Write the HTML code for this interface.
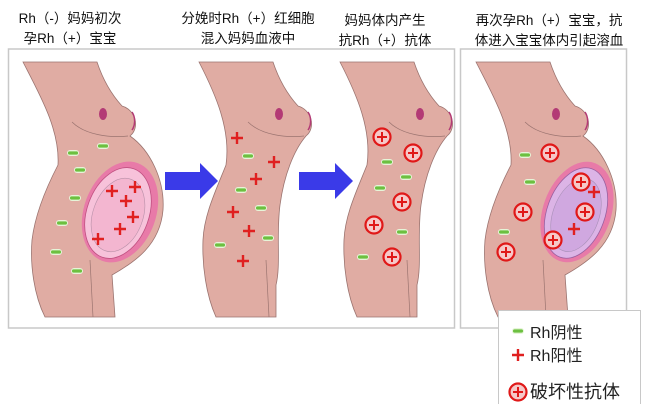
<!DOCTYPE html>
<html><head><meta charset="utf-8"><style>
html,body{margin:0;padding:0;background:#fff;}
svg{display:block;font-family:"Liberation Sans","Noto Sans CJK SC",sans-serif;}
</style></head><body>
<svg width="671" height="404" viewBox="0 0 671 404" xmlns="http://www.w3.org/2000/svg">
<defs>
<g id="minus"><rect x="-6" y="-3" width="12" height="6" rx="3" fill="#e6f5d8"/><rect x="-5" y="-1.6" width="10" height="3.2" rx="1.5" fill="#6cc040"/></g>
<g id="plus"><path d="M-6,0H6M0,-6V6" stroke="#e02020" stroke-width="2.4"/></g>
<g id="circ"><circle r="8.5" fill="#f6c8c8" stroke="#e01818" stroke-width="2.2"/><path d="M-5,0H5M0,-5V5" stroke="#e01818" stroke-width="2"/></g>
<path id="preg" d="M23,62 L97,62 C103,80 112,95 122,106 C136,110 140,128 130,136 C150,150 165,180 163,210 C160,245 135,262 112,275 L115,317 L45,317 C34,295 30,265 32,240 C35,215 45,190 58,165 C60,130 40,95 23,62 Z" fill="#e0aca3" stroke="#9b7470" stroke-width="0.8"/>
<path id="flat" d="M23,62 L97,62 C103,80 112,95 122,106 C136,110 140,128 130,136 C118,150 108,175 104,205 C100,235 105,265 100,285 L100,317 L40,317 C30,295 26,265 27,240 C28,215 40,190 50,165 C55,130 40,95 23,62 Z" fill="#e0aca3" stroke="#9b7470" stroke-width="0.8"/>
<g id="det" fill="none" stroke="#9b7470" stroke-width="0.7"><path d="M72,122 C85,135 110,138 128,136"/><path d="M90,260 L93,317"/><ellipse cx="103" cy="114" rx="4" ry="6" fill="#b33a75" stroke="none"/><path d="M132,112 C136,118 135,126 132,130" stroke="#b33a75" stroke-width="1.5"/></g>
</defs>

<!-- titles -->
<g font-size="13.5" fill="#111" text-anchor="middle">
<text x="70" y="23">Rh（-）妈妈初次</text>
<text x="70" y="43">孕Rh（+）宝宝</text>
<text x="248" y="23">分娩时Rh（+）红细胞</text>
<text x="248" y="43">混入妈妈血液中</text>
<text x="385" y="25">妈妈体内产生</text>
<text x="385" y="45">抗Rh（+）抗体</text>
<text x="549" y="25">再次孕Rh（+）宝宝，抗</text>
<text x="549" y="45">体进入宝宝体内引起溶血</text>
</g>

<!-- frames -->
<rect x="8.5" y="49" width="446" height="279" fill="#fff" stroke="#c8c8c8" stroke-width="1.5"/>
<rect x="460.5" y="49" width="166" height="279" fill="#fff" stroke="#c8c8c8" stroke-width="1.5"/>

<!-- body1 -->
<use href="#preg"/><use href="#det"/>
<ellipse cx="120" cy="212" rx="36" ry="52" transform="rotate(20 120 212)" fill="#e87aa8"/>
<ellipse cx="118" cy="213" rx="31" ry="47" transform="rotate(20 118 213)" fill="#f7c2da" stroke="#c05080" stroke-width="0.8"/>
<ellipse cx="118" cy="215" rx="25" ry="38" transform="rotate(20 118 215)" fill="#f3b6d0" stroke="#b890a8" stroke-width="0.6"/>
<g><use href="#minus" x="73" y="153"/><use href="#minus" x="103" y="146"/><use href="#minus" x="80" y="170"/><use href="#minus" x="75" y="198"/><use href="#minus" x="62" y="223"/><use href="#minus" x="56" y="252"/><use href="#minus" x="77" y="271"/>
<use href="#plus" x="112" y="191"/><use href="#plus" x="135" y="187"/><use href="#plus" x="126" y="201"/><use href="#plus" x="133" y="217"/><use href="#plus" x="120" y="229"/><use href="#plus" x="98" y="239"/></g>

<!-- arrows -->
<path d="M165,172 L200,172 L200,163 L218,181 L200,199 L200,190 L165,190 Z" fill="#3a3ae8"/>
<path d="M299,172 L335,172 L335,163 L353,181 L335,199 L335,190 L299,190 Z" fill="#3a3ae8"/>

<!-- body2 -->
<g transform="translate(176,0)"><use href="#flat"/><use href="#det"/></g>
<g><use href="#plus" x="237" y="138"/><use href="#plus" x="274" y="162"/><use href="#plus" x="256" y="179"/><use href="#plus" x="233" y="212"/><use href="#plus" x="249" y="231"/><use href="#plus" x="243" y="261"/>
<use href="#minus" x="248" y="156"/><use href="#minus" x="241" y="190"/><use href="#minus" x="261" y="208"/><use href="#minus" x="268" y="238"/><use href="#minus" x="220" y="245"/></g>

<!-- body3 -->
<g transform="translate(317,0)"><use href="#flat"/><use href="#det"/></g>
<g><use href="#circ" x="382" y="137"/><use href="#circ" x="413" y="153"/><use href="#circ" x="402" y="202"/><use href="#circ" x="374" y="225"/><use href="#circ" x="392" y="257"/>
<use href="#minus" x="387" y="162"/><use href="#minus" x="406" y="177"/><use href="#minus" x="380" y="188"/><use href="#minus" x="402" y="232"/><use href="#minus" x="363" y="257"/></g>

<!-- body4 -->
<g transform="translate(453,0)"><use href="#preg"/><use href="#det"/></g>
<ellipse cx="577" cy="212" rx="34" ry="52" transform="rotate(20 577 212)" fill="#e87aa8"/>
<ellipse cx="576" cy="213" rx="29" ry="47" transform="rotate(20 576 213)" fill="#dcb4e6" stroke="#9a60a0" stroke-width="0.8"/>
<ellipse cx="576" cy="215" rx="23" ry="38" transform="rotate(20 576 215)" fill="#d0a8e0" stroke="#a890b8" stroke-width="0.6"/>
<g><use href="#circ" x="550" y="153"/><use href="#circ" x="581" y="182"/><use href="#circ" x="523" y="212"/><use href="#circ" x="553" y="240"/><use href="#circ" x="585" y="212"/><use href="#circ" x="506" y="252"/>
<use href="#minus" x="525" y="155"/><use href="#minus" x="530" y="182"/><use href="#minus" x="504" y="232"/>
<use href="#plus" x="594" y="192"/><use href="#plus" x="574" y="229"/></g>

<!-- legend -->
<rect x="498.5" y="310.5" width="142" height="96" fill="#fff" stroke="#c8c8c8" stroke-width="1"/>
<use href="#minus" x="518" y="331"/>
<use href="#plus" x="518" y="355"/>
<use href="#circ" x="518" y="392"/>
<g font-size="16" fill="#222"><text x="530" y="338">Rh阴性</text><text x="530" y="361">Rh阳性</text><text x="530" y="398" font-size="18">破坏性抗体</text></g>
</svg>
</body></html>
